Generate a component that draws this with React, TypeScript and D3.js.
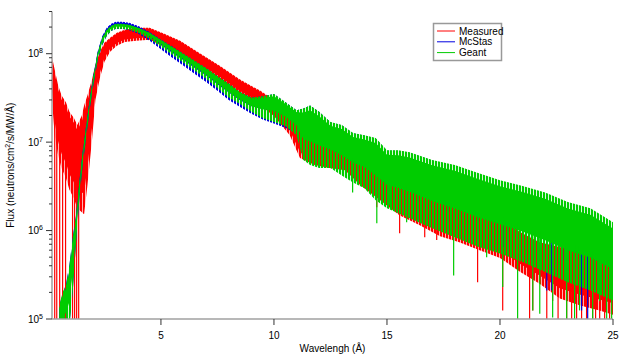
import React from "react";
import * as d3 from "d3";

// ---------- data ----------
const geantLambda = [0.5, 0.65, 0.8, 0.95, 1.1, 1.25, 1.4, 1.55, 1.7, 1.85, 2.0, 2.2, 2.4, 2.6, 2.8, 3.0, 3.3, 3.6, 4.0, 4.5, 5.0, 5.5, 6.0, 6.5, 7.0, 7.5, 8.0, 8.5, 9.0, 9.5, 10.0, 10.5, 11.0, 11.3, 11.6, 12.0, 12.5, 13.0, 13.5, 14.0, 14.5, 15.0, 15.5, 16.0, 17.0, 18.0, 19.0, 20.0, 21.0, 22.0, 23.0, 24.0, 25.0];
const geantHigh = [1.42e5, 2.0e5, 2.4e5, 4.0e5, 8.2e5, 1.49e6, 3.7e6, 8.1e6, 1.56e7, 3.0e7, 5.3e7, 1.02e8, 1.51e8, 1.87e8, 2.07e8, 2.18e8, 2.18e8, 2.13e8, 1.97e8, 1.73e8, 1.44e8, 1.2e8, 1.0e8, 8.3e7, 6.9e7, 5.6e7, 4.6e7, 3.7e7, 3.2e7, 3.3e7, 3.5e7, 2.85e7, 2.3e7, 2.4e7, 2.6e7, 2.2e7, 1.69e7, 1.56e7, 1.27e7, 1.2e7, 1.11e7, 8.1e6, 8.1e6, 7.7e6, 6.3e6, 5.5e6, 4.5e6, 3.7e6, 3.2e6, 2.7e6, 2.1e6, 1.79e6, 1.24e6];
const geantLow = [5.7e4, 6.5e4, 7.4e4, 8.4e4, 2.1e5, 7.8e5, 2.5e6, 6.0e6, 1.2e7, 2.4e7, 4.3e7, 8.5e7, 1.26e8, 1.6e8, 1.82e8, 1.92e8, 1.92e8, 1.87e8, 1.73e8, 1.48e8, 1.2e8, 9.7e7, 7.9e7, 6.4e7, 5.2e7, 4.1e7, 3.2e7, 2.7e7, 2.2e7, 1.88e7, 1.69e7, 1.52e7, 1.2e7, 6.3e6, 5.5e6, 5.1e6, 5.1e6, 4.2e6, 3.5e6, 3.0e6, 2.2e6, 1.79e6, 1.57e6, 1.38e6, 1.06e6, 8.4e5, 6.6e5, 5.5e5, 4.4e5, 3.4e5, 2.6e5, 2.1e5, 1.62e5];
const geantSpikeLambda = [13.48, 14.55, 15.12, 15.87, 17.95, 19.41, 20.12, 20.78, 21.45, 21.76, 22.33, 22.95, 23.3, 23.52, 24.1, 24.41, 24.72, 24.94];
const geantSpikeMin = [2.7e6, 1.21e6, 1.94e6, 1.24e6, 3.1e5, 5.0e5, 2.3e5, 8e4, 1.25e5, 1.15e5, 1.04e5, 8e4, 8e4, 1.25e5, 8e4, 1.6e5, 8e4, 8e4];

const mcstasLambda = [0.5, 0.65, 0.8, 0.95, 1.1, 1.25, 1.4, 1.55, 1.7, 1.85, 2.0, 2.2, 2.4, 2.6, 2.8, 3.0, 3.3, 3.6, 4.0, 4.5, 5.0, 5.5, 6.0, 6.5, 7.0, 7.5, 8.0, 8.5, 9.0, 9.5, 10.0, 10.5, 11.0, 11.3, 11.6, 12.0, 12.5, 13.0, 13.5, 14.0, 14.5, 15.0, 15.5, 16.0, 17.0, 18.0, 19.0, 20.0, 21.0, 22.0, 23.0, 24.0, 25.0];
const mcstasHigh = [1.4e5, 1.9e5, 2.5e5, 4.1e5, 8.5e5, 1.55e6, 3.8e6, 8.4e6, 1.6e7, 3.1e7, 5.5e7, 1.06e8, 1.57e8, 1.96e8, 2.18e8, 2.29e8, 2.29e8, 2.24e8, 2.05e8, 1.76e8, 1.45e8, 1.21e8, 1.0e8, 8.3e7, 6.9e7, 5.6e7, 4.6e7, 3.7e7, 3.2e7, 3.3e7, 3.5e7, 2.85e7, 2.3e7, 2.4e7, 2.6e7, 2.2e7, 1.68e7, 1.55e7, 1.26e7, 1.19e7, 1.1e7, 8.0e6, 8.0e6, 7.6e6, 6.2e6, 5.4e6, 4.4e6, 3.6e6, 3.1e6, 2.6e6, 2.05e6, 1.75e6, 1.2e6];
const mcstasLow = [5.7e4, 6.5e4, 7.4e4, 8.4e4, 2.1e5, 7.6e5, 2.4e6, 5.8e6, 1.17e7, 2.35e7, 4.2e7, 8.3e7, 1.24e8, 1.58e8, 1.8e8, 1.9e8, 1.9e8, 1.84e8, 1.68e8, 1.4e8, 1.12e8, 9.0e7, 7.3e7, 5.9e7, 4.8e7, 3.8e7, 3.0e7, 2.5e7, 2.1e7, 1.8e7, 1.62e7, 1.45e7, 1.25e7, 6.6e6, 5.8e6, 5.4e6, 5.4e6, 4.4e6, 3.7e6, 3.15e6, 2.3e6, 1.88e6, 1.65e6, 1.45e6, 1.11e6, 8.8e5, 6.9e5, 5.8e5, 4.6e5, 3.6e5, 2.7e5, 2.2e5, 1.7e5];
const mcstasSpikeLambda = [20.12, 22.07, 22.29, 22.77, 23.61, 23.88, 24.33, 24.85];
const mcstasSpikeMin = [6.5e5, 2.1e5, 2.1e5, 4.6e5, 1.25e5, 8e4, 2.1e5, 6.0e5];

const measuredLambda = [0.16, 0.3, 0.45, 0.6, 0.8, 0.95, 1.15, 1.3, 1.5, 1.6, 1.75, 1.95, 2.1, 2.3, 2.5, 2.75, 3.05, 3.4, 3.9, 4.5, 5.15, 5.85, 6.7, 7.6, 8.5, 9.4, 10.0, 10.7, 11.15, 11.8, 12.45, 13.15, 13.8, 14.7, 15.55, 16.45, 17.35, 18.2, 19.1, 20.0, 20.9, 21.75, 22.65, 23.55, 24.4, 25.0];
const measuredHigh = [9.7e7, 6.6e7, 4.4e7, 3.4e7, 2.8e7, 2.2e7, 1.88e7, 1.56e7, 2.0e7, 2.6e7, 3.4e7, 5.1e7, 7.5e7, 1.05e8, 1.33e8, 1.51e8, 1.73e8, 1.87e8, 1.97e8, 1.97e8, 1.68e8, 1.4e8, 1.02e8, 7.3e7, 5.1e7, 3.8e7, 3.0e7, 2.2e7, 1.45e7, 1.14e7, 9.8e6, 9.3e6, 6.6e6, 4.8e6, 3.4e6, 2.7e6, 2.2e6, 1.79e6, 1.53e6, 1.38e6, 9.6e5, 7.4e5, 6.5e5, 5.7e5, 5.2e5, 4.9e5];
const measuredLow = [3.4e7, 1.2e7, 7.1e6, 5.1e6, 3.9e6, 2.9e6, 2.3e6, 1.79e6, 1.61e6, 1.53e6, 3.3e6, 1.06e7, 3.0e7, 5.3e7, 8.1e7, 1.05e8, 1.23e8, 1.36e8, 1.4e8, 1.44e8, 1.2e8, 9.7e7, 7.1e7, 5.1e7, 3.5e7, 2.6e7, 1.98e7, 1.2e7, 6.6e6, 5.5e6, 5.1e6, 4.8e6, 3.3e6, 2.2e6, 1.49e6, 1.15e6, 8.6e5, 7.4e5, 6.0e5, 4.9e5, 3.4e5, 2.5e5, 1.71e5, 1.42e5, 1.25e5, 1.12e5];
const measuredSpikeLambda = [0.3, 0.39, 0.52, 0.65, 0.78, 1.09, 1.18, 1.27, 1.36, 14.55, 15.56, 16.67, 17.2, 19.01, 20.12, 21.31, 21.45, 22.07, 22.33, 22.57, 22.95, 23.17, 23.39, 23.61, 23.83, 24.1, 24.23, 24.41, 24.63, 24.85];
const measuredSpikeMin = [8e4, 8e4, 8e4, 8e4, 8e4, 8e4, 8e4, 8e4, 8e4, 1.84e6, 9.3e5, 8.4e5, 7.8e5, 2.6e5, 1.25e5, 8e4, 1.25e5, 8e4, 1.6e5, 8e4, 8e4, 8e4, 8e4, 8e4, 8e4, 8e4, 8e4, 8e4, 8e4, 8e4];

const seriesNames = ["Measured", "McStas", "Geant"];
const seriesColors = ["#ff0000", "#0000e0", "#00cc00"];
const xTickValues = [5, 10, 15, 20, 25];
const yMajorExponents = [5, 6, 7, 8];
const xDomain = [0.18, 25];
const yDomain = [1e5, 3e8];

const FONT = "'Liberation Sans', Arial, Helvetica, sans-serif";

export default function App() {
  const left = 52, right = 613, top = 11.5, bottom = 319;
  const x = d3.scaleLinear().domain(xDomain).range([left, right]);
  const y = d3.scaleLog().domain(yDomain).range([bottom, top]);

  // stripe texture for the noisy fringes
  const stripeOffset = [2, 0, 0];
  const gapOpacity = [0.3, 0, 0.15];

  const series = [
    { lam: measuredLambda, hi: measuredHigh, lo: measuredLow, sl: measuredSpikeLambda, sm: measuredSpikeMin, core: [0.06, 0.8] },
    { lam: mcstasLambda, hi: mcstasHigh, lo: mcstasLow, sl: mcstasSpikeLambda, sm: mcstasSpikeMin, core: [0.1, 0.55] },
    { lam: geantLambda, hi: geantHigh, lo: geantLow, sl: geantSpikeLambda, sm: geantSpikeMin, core: [0.08, 0.6] },
  ];

  const frac = (h: number, l: number, f: number) =>
    Math.pow(10, Math.log10(h) + f * (Math.log10(l) - Math.log10(h)));

  const band = (lam: number[], hi: number[], lo: number[], f0: number, f1: number) =>
    d3
      .area<number>()
      .x((d) => x(d))
      .y1((_, i) => y(frac(hi[i], lo[i], f0)))
      .y0((_, i) => y(frac(hi[i], lo[i], f1)))(lam) || "";

  const yMinor: number[] = [];
  yMajorExponents.forEach((e) => {
    for (let m = 2; m <= 9; m++) {
      const v = m * Math.pow(10, e);
      if (v <= yDomain[1]) yMinor.push(v);
    }
  });

  return (
    <svg
      width={638}
      height={354}
      style={{ position: "absolute", left: 0, top: 0, display: "block", background: "#fff" }}
      fontFamily={FONT}
    >
      <defs>
        <clipPath id="plot">
          <rect x={left} y={top} width={right - left} height={bottom - top} />
        </clipPath>
        {seriesColors.map((c, k) => (
          <pattern
            key={k}
            id={"stripe" + k}
            patternUnits="userSpaceOnUse"
            x={stripeOffset[k]}
            y={0}
            width={3}
            height={20}
          >
            <rect x={0} y={0} width={2} height={20} fill={c} />
            <rect x={2} y={0} width={1} height={20} fill={c} fillOpacity={gapOpacity[k]} />
          </pattern>
        ))}
      </defs>
      <g clipPath="url(#plot)">
        {series.map((s, k) => {
          const midLog = d3
            .scaleLinear()
            .domain(s.lam)
            .range(s.lam.map((_, i) => Math.log10(frac(s.hi[i], s.lo[i], 0.5))));
          return (
            <g key={k}>
              <path d={band(s.lam, s.hi, s.lo, 0, 1)} fill={`url(#stripe${k})`} />
              <path d={band(s.lam, s.hi, s.lo, s.core[0], s.core[1])} fill={seriesColors[k]} />
              {s.sl.map((l, i) => (
                <line
                  key={i}
                  x1={x(l)}
                  x2={x(l)}
                  y1={y(Math.pow(10, midLog(l)))}
                  y2={Math.min(y(s.sm[i]), bottom + 5)}
                  stroke={seriesColors[k]}
                  strokeWidth={1.2}
                />
              ))}
            </g>
          );
        })}
      </g>

      {/* axes */}
      <line x1={left} x2={left} y1={top} y2={bottom} stroke="#a0a0a0" strokeWidth={1.5} />
      <line x1={left} x2={right} y1={bottom} y2={bottom} stroke="#a0a0a0" strokeWidth={1.5} />
      {yMinor.map((v, i) => (
        <line key={"mn" + i} x1={left - 3} x2={left} y1={y(v)} y2={y(v)} stroke="#333" strokeWidth={1} />
      ))}
      {yMajorExponents.map((e) => {
        const yy = y(Math.pow(10, e));
        return (
          <g key={"my" + e}>
            <line x1={left - 6} x2={left} y1={yy} y2={yy} stroke="#333" strokeWidth={1} />
            <text x={left - 9} y={yy + 3.5} fontSize={10} textAnchor="end" fill="#000">
              10
              <tspan fontSize={7} dy={-4}>
                {e}
              </tspan>
            </text>
          </g>
        );
      })}
      {xTickValues.map((t) => (
        <g key={"xt" + t}>
          <line x1={x(t)} x2={x(t)} y1={bottom} y2={bottom + 6} stroke="#333" strokeWidth={1} />
          <text x={x(t)} y={339} fontSize={10} textAnchor="middle" fill="#000">
            {t}
          </text>
        </g>
      ))}
      <text x={(left + right) / 2} y={352} fontSize={10} textAnchor="middle" fill="#000">
        Wavelengh (Å)
      </text>
      <text
        transform={`translate(13.5, ${(top + bottom) / 2}) rotate(-90)`}
        fontSize={10}
        textAnchor="middle"
        fill="#000"
      >
        Flux (neutrons/cm
        <tspan fontSize={7} dy={-4}>2</tspan>
        <tspan dy={4}>/s/MW/Å)</tspan>
      </text>

      {/* legend */}
      <rect x={433.5} y={23.5} width={68} height={37} fill="#fff" stroke="#999" strokeWidth={1.5} />
      {seriesNames.map((n, i) => {
        const ly = 31 + i * 10.8;
        return (
          <g key={n}>
            <line x1={437} x2={455} y1={ly} y2={ly} stroke={seriesColors[i]} strokeWidth={1} />
            <text x={459} y={ly + 3.5} fontSize={10} fill="#000">
              {n}
            </text>
          </g>
        );
      })}
    </svg>
  );
}
